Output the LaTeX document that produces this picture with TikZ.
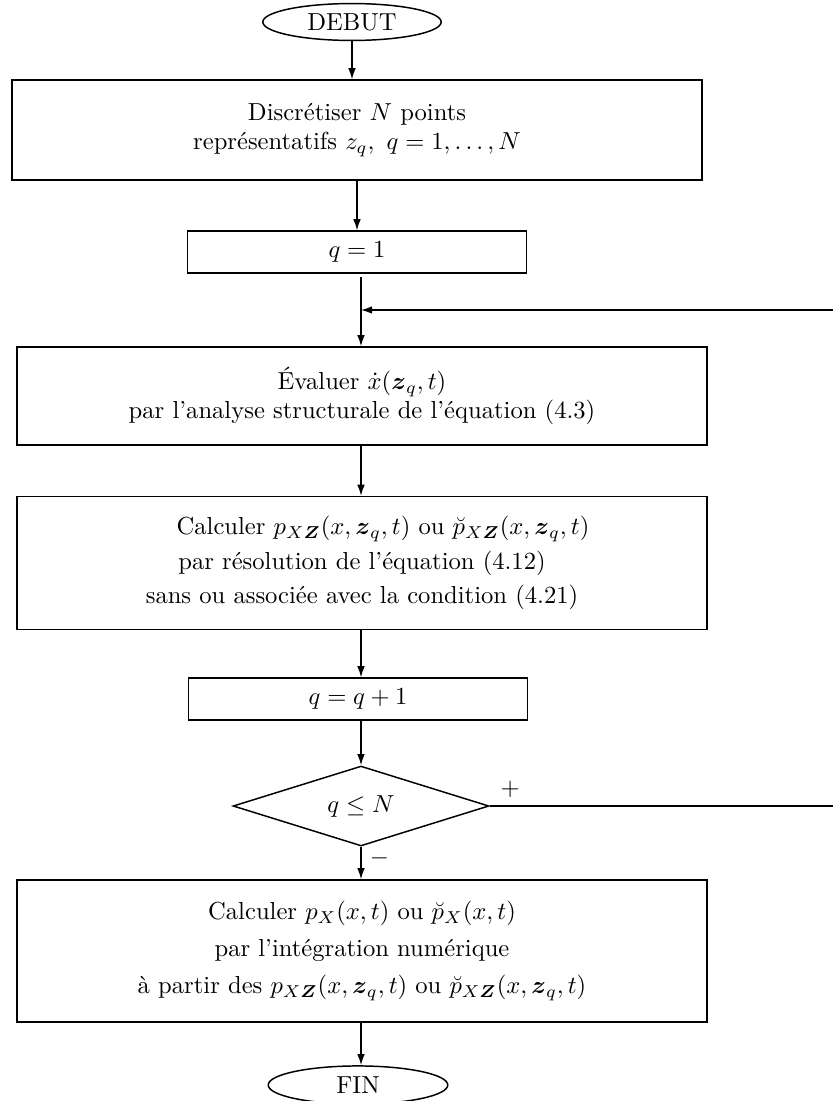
\documentclass[tikz,border=0pt]{standalone}
\usepackage{amsmath,amssymb}
\usetikzlibrary{arrows.meta,positioning,shapes.geometric}

\begin{document}
\begin{tikzpicture}[x=0.4065pt,y=-0.4065pt,>={Latex[length=1.6mm,width=1.1mm]},
  box/.style={draw,semithick,align=center,inner sep=2pt,minimum width=280.3pt},
  small/.style={box,minimum width=138pt,minimum height=17pt},
  term/.style={draw,semithick,ellipse,minimum width=72.5pt,minimum height=15pt,inner sep=0pt},
  test/.style={draw,semithick,diamond,aspect=3.2,minimum width=104pt,minimum height=32.5pt,inner sep=0pt},
  flow/.style={->,semithick}]
  \useasboundingbox (0,0) rectangle (833,1101);
  \node[term] (debut) at (352,22) {DEBUT};
  \node[box,minimum height=40.6pt] (discr) at (357,130) {Discrétiser $N$ points\\ représentatifs $z_q,\ q=1,\ldots,N$};
  \node[small] (qinit) at (357,252) {$q=1$};
  \node[box,minimum height=39.8pt] (evalx) at (362,396) {Évaluer $\dot{x}(\boldsymbol{z}_q,t)$\\ par l'analyse structurale de l'équation (4.3)};
  \node[box,minimum height=54pt] (calcp) at (362,563) {\hspace*{6mm}Calculer $p_{X\boldsymbol{Z}}(x,\boldsymbol{z}_q,t)$ ou $\breve{p}_{X\boldsymbol{Z}}(x,\boldsymbol{z}_q,t)$\\[2pt]
    par résolution de l'équation (4.12)\\[2pt] sans ou associée avec la condition (4.21)};
  \node[small] (qinc) at (358,699) {$q=q+1$};
  \node[test] (test) at (361,806) {$q\leq N$};
  \node[box,minimum height=57.7pt] (integ) at (362,951) {Calculer $p_X(x,t)$ ou $\breve{p}_X(x,t)$\\[3pt]
    par l'intégration numérique\\[3pt] à partir des $p_{X\boldsymbol{Z}}(x,\boldsymbol{z}_q,t)$ ou $\breve{p}_{X\boldsymbol{Z}}(x,\boldsymbol{z}_q,t)$};
  \node[term,minimum width=73pt,minimum height=15.5pt] (fin) at (358,1085) {FIN};
  \coordinate (ret) at (833,310);
  \draw[flow] (debut) -- (debut |- discr.north);
  \draw[flow] (discr) -- (qinit);
  \draw[flow,shorten <=1.5pt] (qinit.south -| test.north) -- (evalx.north -| test.north);
  \draw[flow] (ret) -- (ret -| test.north);
  \draw[flow] (evalx.south -| test.north) -- (calcp.north -| test.north);
  \draw[flow] (calcp.south -| test.north) -- (qinc.north -| test.north);
  \draw[flow] (qinc.south -| test.north) -- (test.north);
  \draw[semithick] (test.east) -- node[pos=.06,above]{$+$} (test.east -| ret);
  \draw[flow] (test.south) -- node[pos=.35,right]{$-$} (integ.north -| test.south);
  \draw[flow] (integ.south -| test.north) -- (fin.north -| test.north);
\end{tikzpicture}
\end{document}
